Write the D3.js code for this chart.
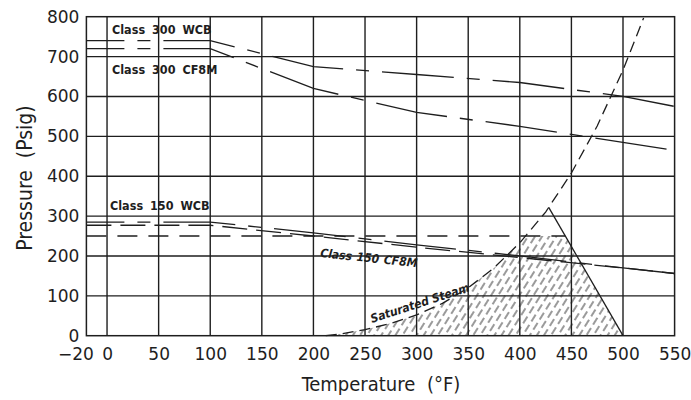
<!DOCTYPE html>
<html>
<head>
<meta charset="utf-8">
<script src="https://cdn.jsdelivr.net/npm/d3@7"></script>
<style>
  body { margin: 0; background: #fff; }
  svg { display: block; }
</style>
</head>
<body>
<script>
/***********************************************************************************/
// Data

var xTicks = [0, 50, 100, 150, 200, 250, 300, 350, 400, 450, 500, 550];
var xTickLabels = ['0', '50', '100', '150', '200', '250', '300', '350', '400', '450', '500', '550'];
var yTicks = [0, 100, 200, 300, 400, 500, 600, 700, 800];

var class300WCB  = [[-20, 740], [100, 740], [200, 675], [300, 655], [400, 635], [500, 600], [550, 575]];
var class300CF8M = [[-20, 720], [100, 720], [200, 620], [300, 560], [400, 525], [450, 505], [550, 465]];
var class150WCB  = [[-20, 285], [100, 285], [200, 258], [300, 228], [400, 200], [500, 170], [550, 156]];
var class150CF8M = [[-20, 277], [100, 277], [200, 250], [300, 222], [400, 196], [500, 170], [550, 156]];
var limit250     = [[-20, 250], [444, 250]];
var steamCurve   = [[212, 0], [225, 4], [250, 15], [275, 31], [300, 52], [325, 81], [350, 120],
                    [375, 170], [400, 233], [425, 310], [450, 408], [475, 526], [500, 666], [520, 797]];
var triangleSide = [[428, 322], [500, 0]];
var hatchArea    = [[212, 0], [225, 4], [250, 15], [275, 31], [300, 52], [325, 81], [350, 120],
                    [375, 170], [400, 233], [405, 250], [444, 250], [500, 0]];

/***********************************************************************************/
// Setup

var W = 691, H = 400;
var x = d3.scaleLinear().domain([-20, 550]).range([86.4, 674.6]);
var y = d3.scaleLinear().domain([0, 800]).range([335.7, 16.7]);
var ink = '#1e1e1e';

var svg = d3.select('body').append('svg').attr('width', W).attr('height', H);

// staggered short dashes, leaning like "/"
var defs = svg.append('defs');
var pat = defs.append('pattern')
  .attr('id', 'hatch').attr('patternUnits', 'userSpaceOnUse')
  .attr('width', 12).attr('height', 12)
  .attr('patternTransform', 'rotate(32)');
pat.append('line').attr('x1', 3).attr('y1', 1).attr('x2', 3).attr('y2', 9)
  .attr('stroke', ink).attr('stroke-width', 0.9);
pat.append('line').attr('x1', 9).attr('y1', 7).attr('x2', 9).attr('y2', 12)
  .attr('stroke', ink).attr('stroke-width', 0.9);
pat.append('line').attr('x1', 9).attr('y1', 0).attr('x2', 9).attr('y2', 3)
  .attr('stroke', ink).attr('stroke-width', 0.9);

var line = d3.line().x(function(d){ return x(d[0]); }).y(function(d){ return y(d[1]); });

/***********************************************************************************/
// Hatched region

svg.append('path').attr('d', line(hatchArea) + 'Z').attr('fill', 'url(#hatch)').attr('stroke', 'none');

/***********************************************************************************/
// Grid and frame

svg.append('g').selectAll('line').data(xTicks.slice(0, -1)).enter().append('line')
  .attr('x1', function(d){ return x(d); }).attr('x2', function(d){ return x(d); })
  .attr('y1', y(0)).attr('y2', y(800))
  .attr('stroke', ink).attr('stroke-width', 1.4);

svg.append('g').selectAll('line').data(yTicks.slice(1, -1)).enter().append('line')
  .attr('y1', function(d){ return y(d); }).attr('y2', function(d){ return y(d); })
  .attr('x1', x(-20)).attr('x2', x(550))
  .attr('stroke', ink).attr('stroke-width', 1.4);

svg.append('rect').attr('x', x(-20)).attr('y', y(800))
  .attr('width', x(550) - x(-20)).attr('height', y(0) - y(800))
  .attr('fill', 'none').attr('stroke', ink).attr('stroke-width', 1.5);

/***********************************************************************************/
// Axes labels

var xAxis = d3.axisBottom(x).tickValues(xTicks).tickSize(0).tickPadding(12)
  .tickFormat(function(d, i){ return xTickLabels[i]; });
var gx = svg.append('g').attr('transform', 'translate(0,' + y(0) + ')').call(xAxis);
gx.select('.domain').remove();
gx.selectAll('text').attr('font-family', 'DejaVu Sans').attr('font-size', 17).attr('fill', ink);
svg.append('text').attr('x', 76).attr('y', y(0) + 24.5).attr('text-anchor', 'middle')
  .attr('font-family', 'DejaVu Sans').attr('font-size', 17).attr('fill', ink).text('\u221220');

var yAxis = d3.axisLeft(y).tickValues(yTicks).tickSize(0).tickPadding(7);
var gy = svg.append('g').attr('transform', 'translate(' + x(-20) + ',0)').call(yAxis);
gy.select('.domain').remove();
gy.selectAll('text').attr('font-family', 'DejaVu Sans').attr('font-size', 17).attr('fill', ink);

svg.append('text').attr('transform', 'translate(32,178) rotate(-90)').attr('text-anchor', 'middle')
  .attr('font-family', 'DejaVu Sans Condensed').attr('font-size', 21).attr('word-spacing', 6)
  .attr('fill', ink).text('Pressure (Psig)');
svg.append('text').attr('x', 381).attr('y', 391).attr('text-anchor', 'middle')
  .attr('font-family', 'DejaVu Sans Condensed').attr('font-size', 20).attr('word-spacing', 6)
  .attr('fill', ink).text('Temperature (\u00b0F)');

/***********************************************************************************/
// Rating lines

function drawLine(data, dash, offset){
  svg.append('path').attr('d', line(data)).attr('fill', 'none')
    .attr('stroke', ink).attr('stroke-width', 1.3)
    .attr('stroke-dasharray', dash).attr('stroke-dashoffset', offset || 0);
}
drawLine(class300WCB, '72,13,13,13', 34);
drawLine(class300CF8M, '72,13,13,13', 34);
drawLine(class150WCB, '72,13,13,13', 34);
drawLine(class150CF8M, '25,9', 0);
drawLine(limit250, '20,11', 0);
drawLine(steamCurve, '11,6', 0);
drawLine(triangleSide, null, 0);

/***********************************************************************************/
// Line labels

function label(tx, ty, rot, txt, italic, size, ws){
  svg.append('text').attr('transform', 'translate(' + tx + ',' + ty + ') rotate(' + rot + ')')
    .attr('font-family', 'DejaVu Sans Condensed').attr('font-weight', 'bold')
    .attr('font-size', size).attr('word-spacing', ws).attr('fill', ink)
    .attr('font-style', italic ? 'italic' : 'normal')
    .text(txt);
}
label(112, 34, 0, 'Class 300 WCB', false, 12.5, 3);
label(112, 74, 0, 'Class 300 CF8M', false, 12.5, 3);
label(110, 210, 0, 'Class 150 WCB', false, 12.5, 3);
label(320, 257, 6, 'Class 150 CF8M', true, 12, 1);
label(372, 323, -18, 'Saturated Steam', true, 12, 0);
</script>
</body>
</html>
